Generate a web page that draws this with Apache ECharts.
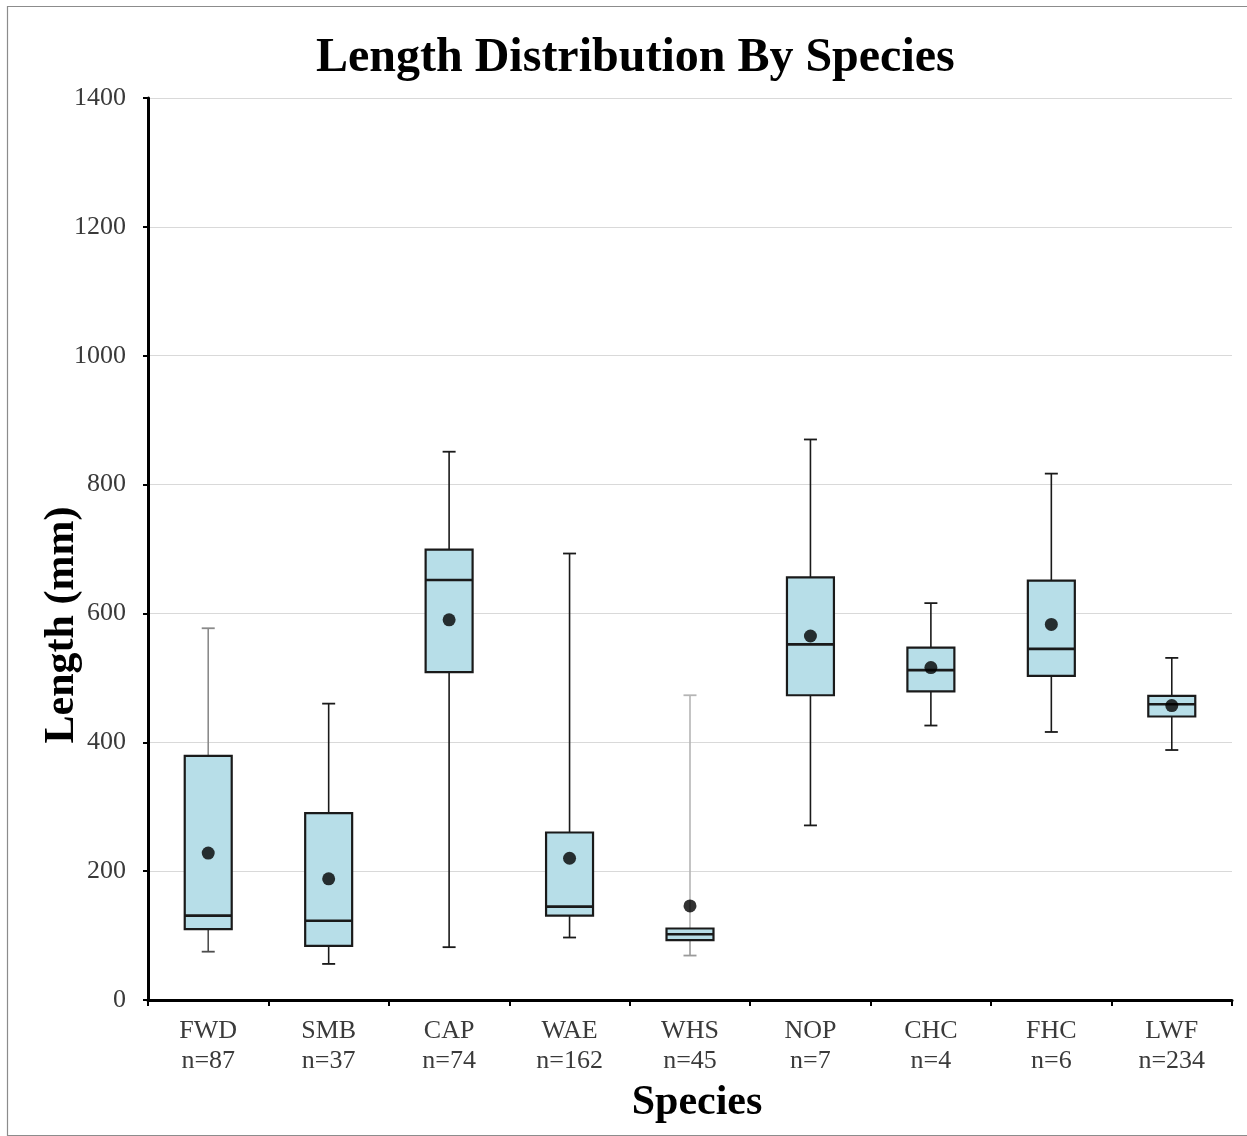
<!DOCTYPE html>
<html>
<head>
<meta charset="utf-8">
<title>Length Distribution By Species</title>
<script src="https://cdn.jsdelivr.net/npm/echarts@6.0.0/dist/echarts.min.js"></script>
<style>
  html, body { margin: 0; padding: 0; background: #fff; }
  #chart { width: 1247px; height: 1136px; }
</style>
</head>
<body>
<div id="chart"></div>
<script>
"use strict";

// Values (mm).
const categories  = ["FWD", "SMB", "CAP", "WAE", "WHS", "NOP", "CHC", "FHC", "LWF"];
const sampleSizes = [87, 37, 74, 162, 45, 7, 4, 6, 234];
const whiskerLow  = [75, 56, 82, 97, 69, 271, 426, 416, 388];
const quartile1   = [110, 84, 509, 131, 93, 473, 479, 503, 440];
const medians     = [131, 123, 652, 145, 102, 552, 512, 545, 459];
const quartile3   = [379, 290, 699, 260, 111, 656, 547, 651, 472];
const whiskerHigh = [577, 460, 851, 693, 473, 870, 616, 817, 531];
const means       = [228, 188, 590, 220, 146, 565, 516, 583, 457];
const yTicks      = [0, 200, 400, 600, 800, 1000, 1200, 1400];

// Styling, kept apart from the data: a few whiskers are drawn lighter.
const FONT = "'Liberation Serif', 'Times New Roman', serif";
const INK = "#1a1a1a";
const BOX_FILL = "#b7dee8";
const whiskerTone = {
  FWD: { upper: "#8a8a8a", lower: "#4d4d4d" },
  WHS: { upper: "#b5b5b5", lower: "#9a9a9a" },
};

const boxData = categories.map((c, i) =>
  [i, whiskerLow[i], quartile1[i], medians[i], quartile3[i], whiskerHigh[i]]);
const meanData = means.map((m, i) => [i, m]);

const renderBox = (params, api) => {
  const i = api.value(0);
  const band = api.size([1, 0])[0];
  const half = band * 0.195;
  const cap = 6.5;
  const pt = v => api.coord([i, v]);
  const [x, yLo] = pt(api.value(1));
  const yQ1 = pt(api.value(2))[1];
  const yMed = pt(api.value(3))[1];
  const yQ3 = pt(api.value(4))[1];
  const yHi = pt(api.value(5))[1];
  const tone = whiskerTone[categories[i]] || { upper: INK, lower: INK };
  const seg = (x1, y1, x2, y2, color, w) => ({
    type: "line", shape: { x1, y1, x2, y2 },
    style: { stroke: color, lineWidth: w },
  });
  return {
    type: "group",
    children: [
      seg(x, yQ3, x, yHi, tone.upper, 1.6),
      seg(x - cap, yHi, x + cap, yHi, tone.upper, 1.8),
      seg(x, yQ1, x, yLo, tone.lower, 1.6),
      seg(x - cap, yLo, x + cap, yLo, tone.lower, 1.8),
      {
        type: "rect",
        shape: { x: x - half, y: yQ3, width: half * 2, height: yQ1 - yQ3 },
        style: { fill: BOX_FILL, stroke: INK, lineWidth: 2.2 },
      },
      seg(x - half, yMed, x + half, yMed, INK, 2.6),
    ],
  };
};

const chart = echarts.init(document.getElementById("chart"), null, { renderer: "canvas" });

chart.setOption({
  animation: false,
  backgroundColor: "#fff",
  textStyle: { fontFamily: FONT },
  title: {
    text: "Length Distribution By Species",
    left: 316,
    top: 35,
    padding: 0,
    textStyle: { fontFamily: FONT, fontSize: 48, fontWeight: "bold", color: "#000" },
  },
  graphic: [{
    type: "rect", left: 5, top: 4, silent: true,
    shape: { width: 1260, height: 1129 },
    style: { fill: "none", stroke: "#8c8c8c", lineWidth: 1.2 },
  }],
  grid: { left: 148, right: 15, top: 98, bottom: 136 },
  xAxis: {
    type: "category",
    data: categories.map((c, i) => c + "\nn=" + sampleSizes[i]),
    boundaryGap: true,
    name: "Species",
    nameLocation: "middle",
    nameGap: 82,
    nameMoveOverlap: false,
    nameTextStyle: {
      fontFamily: FONT, fontSize: 42, fontWeight: "bold", color: "#000",
      padding: [0, 0, 0, 14],
    },
    axisLine: { lineStyle: { color: "#000", width: 3 } },
    axisTick: { show: true, length: 6, lineStyle: { color: "#000", width: 2 } },
    axisLabel: {
      fontFamily: FONT, fontSize: 26, color: "#3a3a3a",
      lineHeight: 30, margin: 16, interval: 0,
    },
    splitLine: { show: false },
  },
  yAxis: {
    type: "value",
    min: yTicks[0],
    max: yTicks[yTicks.length - 1],
    interval: yTicks[1] - yTicks[0],
    name: "Length (mm)",
    nameLocation: "middle",
    nameGap: 65,
    nameRotate: 90,
    nameMoveOverlap: false,
    nameTextStyle: {
      fontFamily: FONT, fontSize: 42, fontWeight: "bold", color: "#000",
      padding: [0, 152, 0, 0],
    },
    axisLine: { show: true, lineStyle: { color: "#000", width: 3 } },
    axisTick: { show: true, length: 5, lineStyle: { color: "#000", width: 2 } },
    axisLabel: {
      fontFamily: FONT, fontSize: 26, color: "#3a3a3a", margin: 22,
      formatter: v => String(v),
    },
    splitLine: { show: true, lineStyle: { color: "#d9d9d9", width: 1 } },
  },
  series: [
    {
      name: "Length",
      type: "custom",
      renderItem: renderBox,
      encode: { x: 0, y: [1, 2, 3, 4, 5] },
      data: boxData,
      z: 2,
    },
    {
      name: "Mean",
      type: "scatter",
      data: meanData,
      symbol: "circle",
      symbolSize: 13,
      itemStyle: { color: "#000" },
      z: 3,
    },
  ],
});
</script>
</body>
</html>
